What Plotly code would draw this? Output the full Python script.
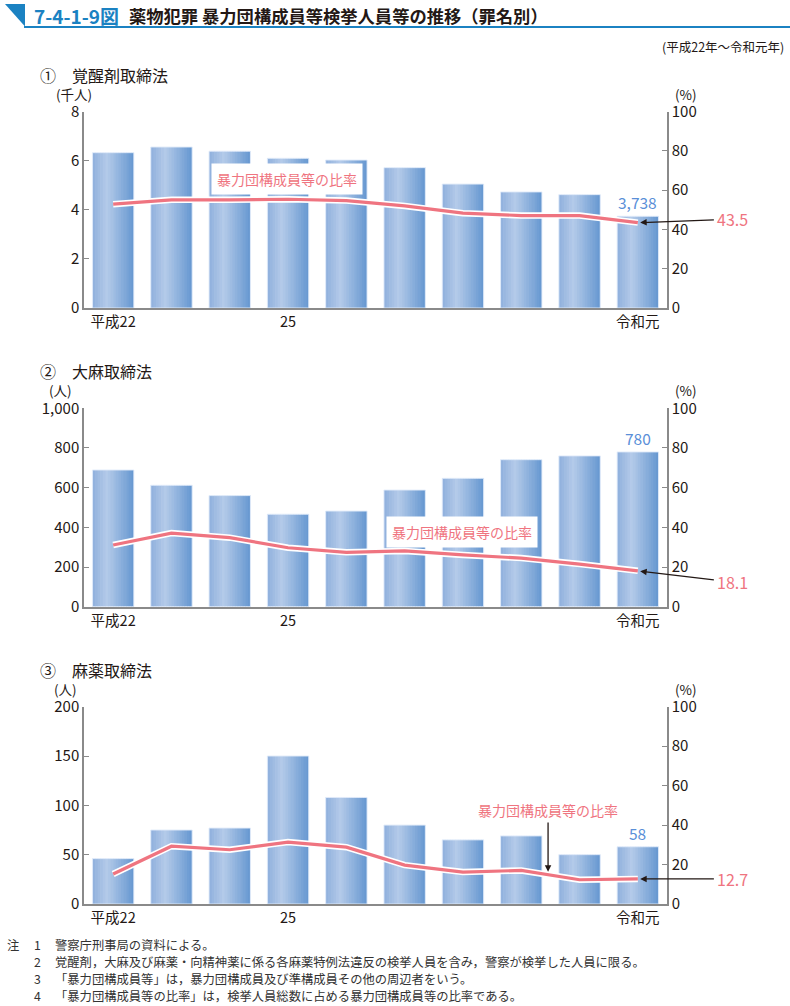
import plotly.graph_objects as go

# ---------------- data ----------------
categories = ["平成22", "23", "24", "25", "26", "27", "28", "29", "30", "令和元"]
tick_labels = ["平成22", "", "", "25", "", "", "", "", "", "令和元"]

stim_gang = [6.33, 6.56, 6.39, 6.10, 6.03, 5.72, 5.05, 4.73, 4.62, 3.738]   # 千人
stim_ratio = [52.9, 55.1, 55.1, 55.4, 54.7, 52.0, 48.3, 47.1, 47.1, 43.5]    # %

cann_gang = [689, 612, 560, 466, 482, 588, 647, 741, 760, 780]              # 人
cann_ratio = [31.1, 37.1, 34.8, 29.7, 27.4, 28.1, 26.1, 24.5, 21.5, 18.1]    # %

narc_gang = [46, 75, 77, 150, 108, 80, 65, 69, 50, 58]                      # 人
narc_ratio = [15.2, 29.3, 27.5, 31.4, 28.8, 19.7, 16.2, 17.0, 12.3, 12.7]    # %

panel_titles = ["①　覚醒剤取締法", "②　大麻取締法", "③　麻薬取締法"]
left_units = ["(千人)", "(人)", "(人)"]
left_ranges = [8, 1000, 200]
left_dticks = [2, 200, 50]
last_labels = ["3,738", "780", "58"]
ratio_label = "暴力団構成員等の比率"

notes = [
    ("注", "1", "警察庁刑事局の資料による。"),
    ("", "2", "覚醒剤，大麻及び麻薬・向精神薬に係る各麻薬特例法違反の検挙人員を含み，警察が検挙した人員に限る。"),
    ("", "3", "「暴力団構成員等」は，暴力団構成員及び準構成員その他の周辺者をいう。"),
    ("", "4", "「暴力団構成員等の比率」は，検挙人員総数に占める暴力団構成員等の比率である。"),
]

# ---------------- styling ----------------
W, H = 790, 1006
FONT = "Noto Sans CJK JP"
PINK = "#EF7480"
BLUE_TXT = "#5A8FD8"
AXIS = "#8a8a8a"
HEAD_BLUE = "#1B82C2"
TXT = "#231815"

def px(x):
    return x / W

def py(y):
    return 1 - y / H

panel_px = [(111.7, 308.0), (408.3, 606.7), (706.7, 904.0)]
unit_cx = [74, 60, 65]
xdom = [px(84), px(667)]

x_idx = list(range(len(categories)))

def hex2rgb(h):
    h = h.lstrip("#")
    return [int(h[i:i + 2], 16) for i in (0, 2, 4)]

def lerp(c1, c2, t):
    a, b = hex2rgb(c1), hex2rgb(c2)
    return "rgb(%d,%d,%d)" % tuple(round(a[i] + (b[i] - a[i]) * t) for i in range(3))

def grad_color(t):
    stops = [(0.0, "#8FB0DD"), (0.35, "#B4CAE9"), (1.0, "#6597D0")]
    for (t0, c0), (t1, c1) in zip(stops[:-1], stops[1:]):
        if t <= t1:
            return lerp(c0, c1, (t - t0) / (t1 - t0))
    return stops[-1][1]

BAR_W = 0.71
N_STRIPS = 16

fig = go.Figure()
layout = dict(
    template="none",
    width=W, height=H,
    margin=dict(l=0, r=0, t=0, b=0, pad=0, autoexpand=False),
    paper_bgcolor="white", plot_bgcolor="white",
    showlegend=False, barmode="overlay",
    font=dict(family=FONT, color=TXT),
    annotations=[], shapes=[],
)

series = [(stim_gang, stim_ratio), (cann_gang, cann_ratio), (narc_gang, narc_ratio)]

for i, (bars, ratio) in enumerate(series):
    xn = "x" if i == 0 else f"x{i + 1}"
    yl = f"y{2 * i + 1}" if i > 0 else "y"
    yr = f"y{2 * i + 2}"
    xkey = "xaxis" if i == 0 else f"xaxis{i + 1}"
    ylkey = "yaxis" if i == 0 else f"yaxis{2 * i + 1}"
    yrkey = f"yaxis{2 * i + 2}"
    top, bot = panel_px[i]
    ydom = [py(bot), py(top)]

    # gradient bars as narrow strips
    sw = BAR_W / N_STRIPS
    for s in range(N_STRIPS):
        t = (s + 0.5) / N_STRIPS
        wdt = sw * (1.25 if s < N_STRIPS - 1 else 1.0)
        fig.add_trace(go.Bar(
            x=x_idx, y=bars, xaxis=xn, yaxis=yl,
            width=wdt, offset=-BAR_W / 2 + s * sw,
            marker=dict(color=grad_color(t), line=dict(width=0)),
            hoverinfo="skip",
        ))
    # thin light outline
    fig.add_trace(go.Bar(
        x=x_idx, y=bars, xaxis=xn, yaxis=yl,
        width=BAR_W, offset=-BAR_W / 2,
        marker=dict(color="rgba(0,0,0,0)", line=dict(width=1, color="rgba(225,235,250,0.9)")),
        hoverinfo="skip",
    ))

    # ratio line with white halo
    fig.add_trace(go.Scatter(
        x=x_idx, y=ratio, xaxis=xn, yaxis=yr, mode="lines",
        line=dict(color="white", width=6.5), hoverinfo="skip",
    ))
    fig.add_trace(go.Scatter(
        x=x_idx, y=ratio, xaxis=xn, yaxis=yr, mode="lines",
        line=dict(color=PINK, width=3.2), hoverinfo="skip",
    ))

    layout[xkey] = dict(
        domain=xdom, anchor=yl, range=[-0.5, 9.5], automargin=False,
        tickmode="array", tickvals=x_idx, ticktext=tick_labels,
        ticks="", showline=True, linecolor=AXIS, linewidth=1.5,
        showgrid=False, zeroline=False,
        tickfont=dict(size=14.5, color=TXT, family=FONT),
        fixedrange=True,
    )
    layout[ylkey] = dict(
        domain=ydom, anchor=xn, range=[0, left_ranges[i]], dtick=left_dticks[i],
        automargin=False,
        tickformat=",", ticks="inside", ticklen=5, tickcolor=AXIS, tickwidth=1.2,
        showline=True, linecolor=AXIS, linewidth=1.5,
        showgrid=False, zeroline=False,
        tickfont=dict(size=15, color=TXT, family=FONT),
    )
    layout[yrkey] = dict(
        overlaying=yl, side="right", anchor=xn, range=[0, 100], dtick=20,
        automargin=False,
        ticks="inside", ticklen=5, tickcolor=AXIS, tickwidth=1.2,
        showline=True, linecolor=AXIS, linewidth=1.5,
        showgrid=False, zeroline=False,
        tickfont=dict(size=15, color=TXT, family=FONT),
    )

    ann = layout["annotations"]
    # panel title
    ann.append(dict(xref="paper", yref="paper", x=px(38), y=py(top - 37), text=panel_titles[i],
                    showarrow=False, xanchor="left", yanchor="middle",
                    font=dict(size=16, color=TXT, family=FONT)))
    # units
    ann.append(dict(xref="paper", yref="paper", x=px(unit_cx[i]), y=py(top - 18), text=left_units[i],
                    showarrow=False, xanchor="center", yanchor="middle",
                    font=dict(size=13.5, color=TXT, family=FONT)))
    ann.append(dict(xref="paper", yref="paper", x=px(686), y=py(top - 18), text="(%)",
                    showarrow=False, xanchor="center", yanchor="middle",
                    font=dict(size=13.5, color=TXT, family=FONT)))
    # last bar value
    ann.append(dict(xref=xn, yref=yl, x=x_idx[-1], y=bars[-1], text=last_labels[i],
                    showarrow=False, xanchor="center", yanchor="bottom", yshift=1,
                    font=dict(size=15.5, color=BLUE_TXT, family=FONT)))

# ratio value call-outs (arrow from label to last point)
callouts = [
    ("x", "y2", 45.3, stim_ratio[-1]),
    ("x2", "y4", 12.4, cann_ratio[-1] - 0.2),
    ("x3", "y6", narc_ratio[-1], narc_ratio[-1]),
]
for (xn, yr, ty, hy), ratio in zip(callouts, [stim_ratio, cann_ratio, narc_ratio]):
    layout["annotations"].append(dict(
        xref=xn, yref=yr, axref=xn, ayref=yr,
        x=x_idx[-1] + 0.04, y=hy, ax=10.63, ay=ty,
        text=f"{ratio[-1]:.1f}", showarrow=True,
        arrowhead=2, arrowsize=1, arrowwidth=1.3, arrowcolor="#231815",
        font=dict(size=16, color=PINK, family=FONT), borderpad=3,
    ))

# "暴力団構成員等の比率" labels
layout["annotations"].append(dict(
    xref="x", yref="y2", x=2.99, y=65.7, text=ratio_label, showarrow=False,
    bgcolor="white", borderpad=5, font=dict(size=14, color=PINK, family=FONT)))
layout["annotations"].append(dict(
    xref="x2", yref="y4", x=5.99, y=37.8, text=ratio_label, showarrow=False,
    bgcolor="white", borderpad=5, font=dict(size=14, color=PINK, family=FONT)))
layout["annotations"].append(dict(
    xref="x3", yref="y6", axref="x3", ayref="y6",
    x=7.46, y=16.4, ax=7.46, ay=47.6, text=ratio_label, showarrow=True,
    arrowhead=2, arrowsize=1, arrowwidth=1.3, arrowcolor="#231815",
    font=dict(size=14, color=PINK, family=FONT), borderpad=2))

# header
layout["shapes"].append(dict(
    type="path", xref="paper", yref="paper",
    path=f"M {px(5)},{py(4)} L {px(25)},{py(4)} L {px(25)},{py(26.5)} Z",
    fillcolor=HEAD_BLUE, line=dict(width=0)))
layout["shapes"].append(dict(
    type="line", xref="paper", yref="paper",
    x0=px(24), x1=px(790), y0=py(27), y1=py(27),
    line=dict(color=HEAD_BLUE, width=2)))
layout["annotations"].append(dict(
    xref="paper", yref="paper", x=px(32), y=py(15), text="<b>7-4-1-9図</b>",
    showarrow=False, xanchor="left", yanchor="middle",
    font=dict(size=19, color=HEAD_BLUE, family=FONT)))
layout["annotations"].append(dict(
    xref="paper", yref="paper", x=px(127), y=py(15),
    text="<b>薬物犯罪 暴力団構成員等検挙人員等の推移（罪名別）</b>",
    showarrow=False, xanchor="left", yanchor="middle",
    font=dict(size=17.3, color=TXT, family=FONT)))
layout["annotations"].append(dict(
    xref="paper", yref="paper", x=px(786), y=py(47), text="(平成22年～令和元年)",
    showarrow=False, xanchor="right", yanchor="middle",
    font=dict(size=12.5, color=TXT, family=FONT)))

# footnotes
note_y = [945, 962, 979, 996]
for (lead, num, txt), yy in zip(notes, note_y):
    if lead:
        layout["annotations"].append(dict(
            xref="paper", yref="paper", x=px(5), y=py(yy), text=lead, showarrow=False,
            xanchor="left", yanchor="middle", font=dict(size=12.3, color="#333", family=FONT)))
    layout["annotations"].append(dict(
        xref="paper", yref="paper", x=px(32), y=py(yy), text=num, showarrow=False,
        xanchor="left", yanchor="middle", font=dict(size=12.3, color="#333", family=FONT)))
    layout["annotations"].append(dict(
        xref="paper", yref="paper", x=px(53), y=py(yy), text=txt, showarrow=False,
        xanchor="left", yanchor="middle", font=dict(size=12.3, color="#333", family=FONT)))

fig.update_layout(**layout)
fig.write_html(
    "out.html",
    config={"displayModeBar": False},
    post_script="document.body.style.margin='0px';document.body.style.overflow='hidden';",
)
